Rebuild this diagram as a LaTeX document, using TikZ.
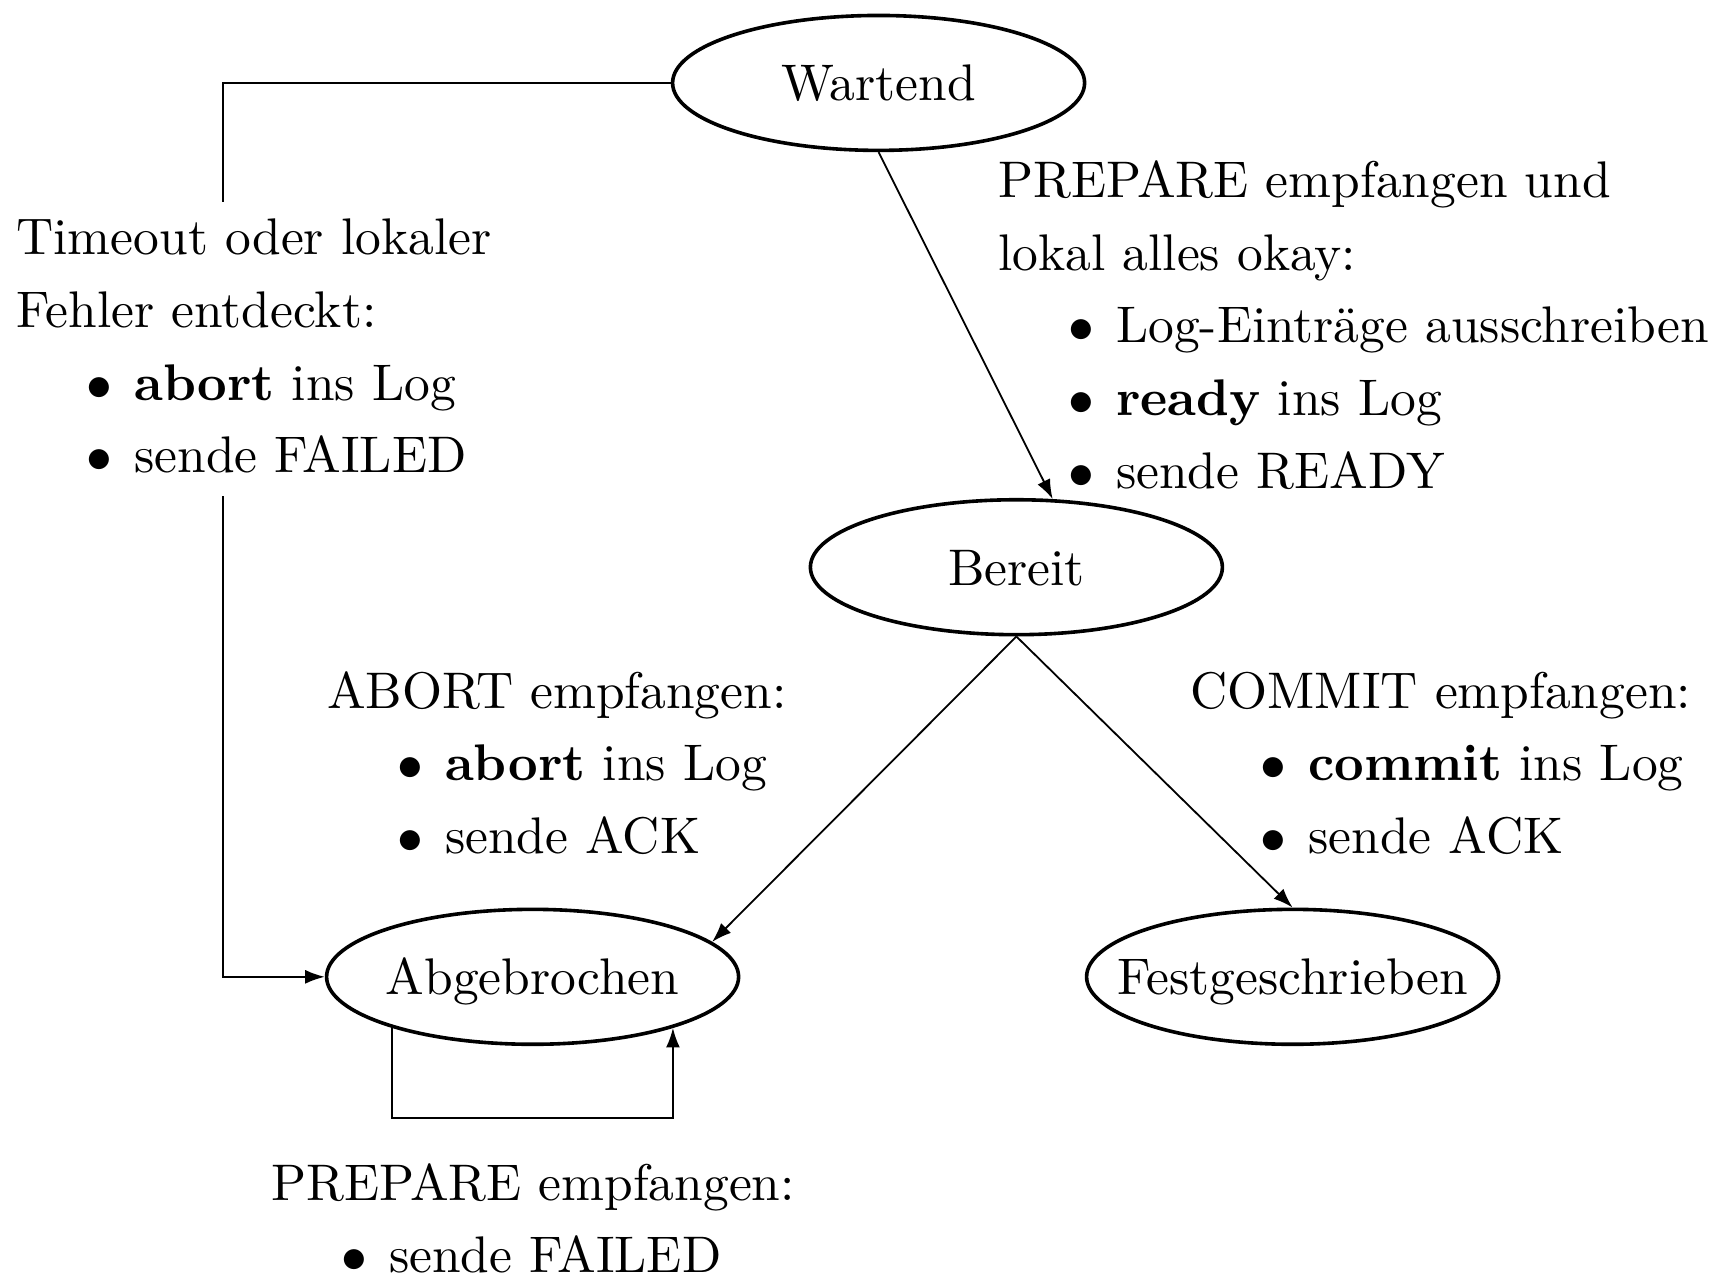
\documentclass[tikz,border=0pt]{standalone}
\usetikzlibrary{arrows.meta,shapes.geometric}
% bullet line inside a transition label
\newcommand\lblitem[1]{\hspace*{13.7pt}\makebox[9.2pt][l]{$\bullet$}#1}
% state name that does not widen its ellipse
\newcommand\statename[1]{\makebox[0pt]{#1}}
\begin{document}
\begin{tikzpicture}[x=0.19417pt,y=-0.19417pt,
  state/.style={draw, ellipse, line width=0.7pt, minimum width=80pt,
    minimum height=26.2pt, inner sep=0pt, text height=7pt, text depth=0pt,
    font=\fontsize{10}{14.1}\selectfont},
  trans/.style={line width=0.35pt, -{Latex[length=3.8pt,width=2.7pt]}},
  lbl/.style={anchor=base west, inner xsep=0pt, inner ysep=0.3pt,
    font=\fontsize{10}{14.1}\selectfont},
  masked/.style={fill=white}]
\useasboundingbox (0,0) rectangle (1722,1277);

% states
\node[state] (W) at (878.6,82.9) {\statename{Wartend}};
\node[state] (B) at (1016.4,567.2) {\statename{Bereit}};
\node[state] (A) at (532.6,976.8) {\statename{Abgebrochen}};
\node[state] (F) at (1292.6,976.8) {\statename{Festgeschrieben}};

% helper coordinates for the routed connectors
\coordinate (lx) at (222.9,0);
\coordinate (ly) at (0,1118);

% transitions
\draw[trans] (W.west) -| (lx |- A.west) -- (A.west);
\draw[trans] (W.south) -- (B.62);
\draw[trans] (B.south) -- (A.11);
\draw[trans] (B.south) -- (F.north);
\draw[trans] (A.-160) -- (A.-160 |- ly) -- (A.-20 |- ly) -- (A.-20);

% transition labels
\node[lbl, masked] (lblfail) at (15.4,254.8) {\begin{tabular}[t]{@{}l@{}}
  Timeout oder lokaler\\
  Fehler entdeckt:\\
  \lblitem{\textbf{abort} ins Log}\\
  \lblitem{sende FAILED}\end{tabular}};
\node[lbl] (lblprep) at (997.2,197.7) {\begin{tabular}[t]{@{}l@{}}
  PREPARE empfangen und\\
  lokal alles okay:\\
  \lblitem{Log-Einträge ausschreiben}\\
  \lblitem{\textbf{ready} ins Log}\\
  \lblitem{sende READY}\end{tabular}};
\node[lbl] (lblabort) at (326.2,708.3) {\begin{tabular}[t]{@{}l@{}}
  ABORT empfangen:\\
  \lblitem{\textbf{abort} ins Log}\\
  \lblitem{sende ACK}\end{tabular}};
\node[lbl] (lblcommit) at (1189.4,708.3) {\begin{tabular}[t]{@{}l@{}}
  COMMIT empfangen:\\
  \lblitem{\textbf{commit} ins Log}\\
  \lblitem{sende ACK}\end{tabular}};
\node[lbl] (lblloop) at (270.2,1200) {\begin{tabular}[t]{@{}l@{}}
  PREPARE empfangen:\\
  \lblitem{sende FAILED}\end{tabular}};
\end{tikzpicture}
\end{document}
